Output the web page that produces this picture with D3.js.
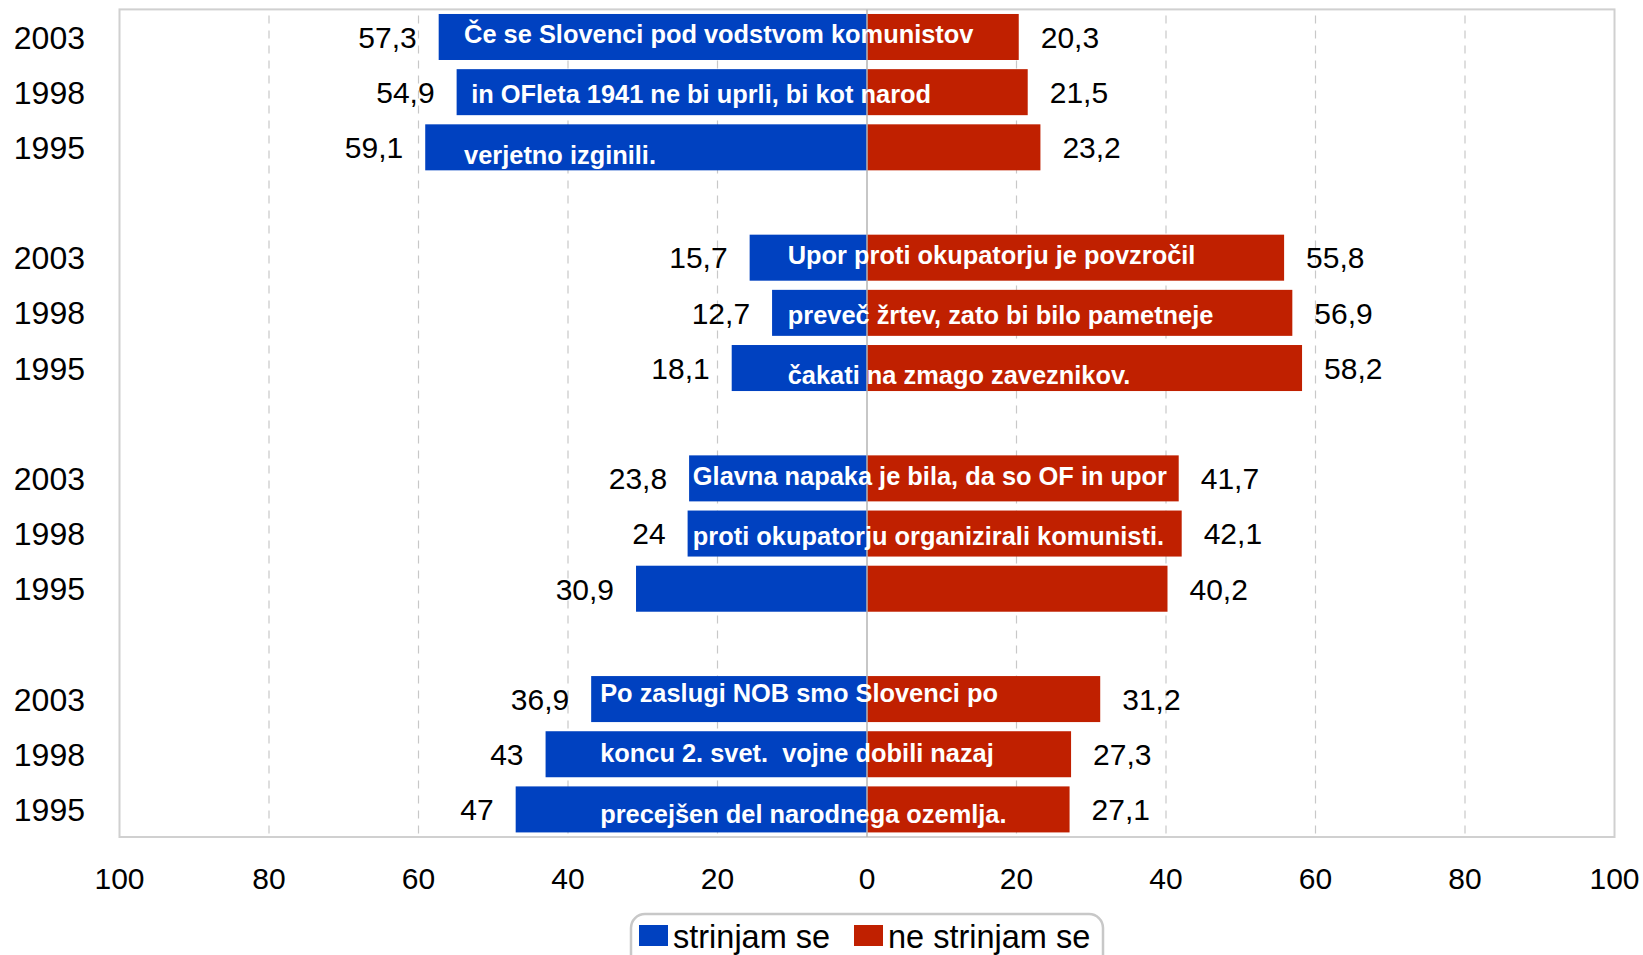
<!DOCTYPE html>
<html><head><meta charset="utf-8">
<script src="https://cdn.jsdelivr.net/npm/d3@7"></script>
<style>
html,body{margin:0;padding:0;background:#fff;}
svg{display:block;font-family:"Liberation Sans",Arial,sans-serif;}
text{white-space:pre;}
</style></head>
<body>
<svg id="chart" width="1643" height="955"></svg>
<script>
// ---------- data ----------
const groups = ["g1", "g2", "g3", "g4"];
const years = ["2003", "1998", "1995"];
const agree = [[57.3, 54.9, 59.1], [15.7, 12.7, 18.1], [23.8, 24, 30.9], [36.9, 43, 47]];
const disagree = [[20.3, 21.5, 23.2], [55.8, 56.9, 58.2], [41.7, 42.1, 40.2], [31.2, 27.3, 27.1]];
const statements = [
  ["Če se Slovenci pod vodstvom komunistov", " in OFleta 1941 ne bi uprli, bi kot narod", "verjetno izginili."],
  ["Upor proti okupatorju je povzročil", "preveč žrtev, zato bi bilo pametneje", "čakati na zmago zaveznikov."],
  ["Glavna napaka je bila, da so OF in upor", "proti okupatorju organizirali komunisti."],
  ["Po zaslugi NOB smo Slovenci po", "koncu 2. svet.  vojne dobili nazaj", "precejšen del narodnega ozemlja."]
];
const statementX = [-53.9, -10.6, -23.3, -35.7];
const tickValues = [-100, -80, -60, -40, -20, 0, 20, 40, 60, 80, 100];
const seriesNames = ["strinjam se", "ne strinjam se"];
const colors = ["#0041c0", "#c02000"];

// ---------- build rows (with empty spacer bands between groups) ----------
const rows = [];
const bands = [];
groups.forEach((g, gi) => {
  years.forEach((y, yi) => {
    const id = g + "-" + y;
    bands.push(id);
    rows.push({id, group: gi, year: y, agree: agree[gi][yi], disagree: disagree[gi][yi]});
  });
  if (gi < groups.length - 1) bands.push(g + "-gap");
});

const svg = d3.select("#chart");
const x = d3.scaleLinear().domain([-100, 100]).range([119.5, 1614.5]);
const y = d3.scaleBand().domain(bands).range([9.4, 837]).paddingInner(0.166).paddingOuter(0.083);
const bw = y.bandwidth();

// plot border
svg.append("rect")
  .attr("x", x(-100)).attr("y", y.range()[0])
  .attr("width", x(100) - x(-100)).attr("height", y.range()[1] - y.range()[0])
  .attr("fill", "none").attr("stroke", "#d0d0d0").attr("stroke-width", 2);

// gridlines
svg.append("g").selectAll("line")
  .data(tickValues.filter(v => Math.abs(v) !== 100 && v !== 0))
  .join("line")
  .attr("x1", d => x(d)).attr("x2", d => x(d))
  .attr("y1", y.range()[0] + 6).attr("y2", y.range()[1])
  .attr("stroke", "#c8c8c8").attr("stroke-width", 1.2).attr("stroke-dasharray", "8,7");

// bars
svg.append("g").selectAll("rect")
  .data(rows).join("rect")
  .attr("x", d => x(-d.agree)).attr("y", d => y(d.id))
  .attr("width", d => x(0) - x(-d.agree)).attr("height", bw)
  .attr("fill", colors[0]);
svg.append("g").selectAll("rect")
  .data(rows).join("rect")
  .attr("x", x(0)).attr("y", d => y(d.id))
  .attr("width", d => x(d.disagree) - x(0)).attr("height", bw)
  .attr("fill", colors[1]);

// zero line
svg.append("line")
  .attr("x1", x(0)).attr("x2", x(0))
  .attr("y1", y.range()[0]).attr("y2", y.range()[1])
  .attr("stroke", "#b4b4b4").attr("stroke-width", 1.5);

const fmt = v => String(v).replace(".", ",");

// value labels
svg.append("g").selectAll("text")
  .data(rows).join("text")
  .attr("x", d => x(-d.agree) - 22).attr("y", d => y(d.id) + bw / 2)
  .attr("dy", "0.36em").attr("text-anchor", "end")
  .attr("font-size", 30).attr("fill", "#000")
  .text(d => fmt(d.agree));
svg.append("g").selectAll("text")
  .data(rows).join("text")
  .attr("x", d => x(d.disagree) + 22).attr("y", d => y(d.id) + bw / 2)
  .attr("dy", "0.36em").attr("text-anchor", "start")
  .attr("font-size", 30).attr("fill", "#000")
  .text(d => fmt(d.disagree));

// year (category) labels
svg.append("g").selectAll("text")
  .data(rows).join("text")
  .attr("x", 85).attr("y", d => y(d.id) + bw / 2)
  .attr("dy", "0.36em").attr("text-anchor", "end")
  .attr("font-size", 32).attr("fill", "#000")
  .text(d => d.year);

// statement text boxes
const stmtG = svg.append("g");
statements.forEach((lines, gi) => {
  const first = y(groups[gi] + "-" + years[0]) + bw / 2;
  const off = gi === 3 ? -6 : -3;
  lines.forEach((t, li) => {
    stmtG.append("text")
      .attr("x", x(statementX[gi]))
      .attr("y", first + off + li * bw * 1.31)
      .attr("dy", "0.36em")
      .attr("font-size", 25.4).attr("font-weight", "bold").attr("fill", "#fff")
      .text(t);
  });
});

// x axis tick labels
svg.append("g").selectAll("text")
  .data(tickValues).join("text")
  .attr("x", d => x(d)).attr("y", 878)
  .attr("dy", "0.36em").attr("text-anchor", "middle")
  .attr("font-size", 30).attr("fill", "#000")
  .text(d => Math.abs(d));

// legend
const lg = svg.append("g");
lg.append("rect")
  .attr("x", 631).attr("y", 914).attr("width", 472).attr("height", 62).attr("rx", 14)
  .attr("fill", "#fff").attr("stroke", "#c8c8c8").attr("stroke-width", 2.5);
const legX = [639, 854];
seriesNames.forEach((n, i) => {
  lg.append("rect").attr("x", legX[i]).attr("y", 925).attr("width", 29).attr("height", 21).attr("fill", colors[i]);
  lg.append("text").attr("x", legX[i] + 34).attr("y", 936).attr("dy", "0.36em")
    .attr("font-size", 32.5).attr("fill", "#000").text(n);
});
</script>
</body></html>
